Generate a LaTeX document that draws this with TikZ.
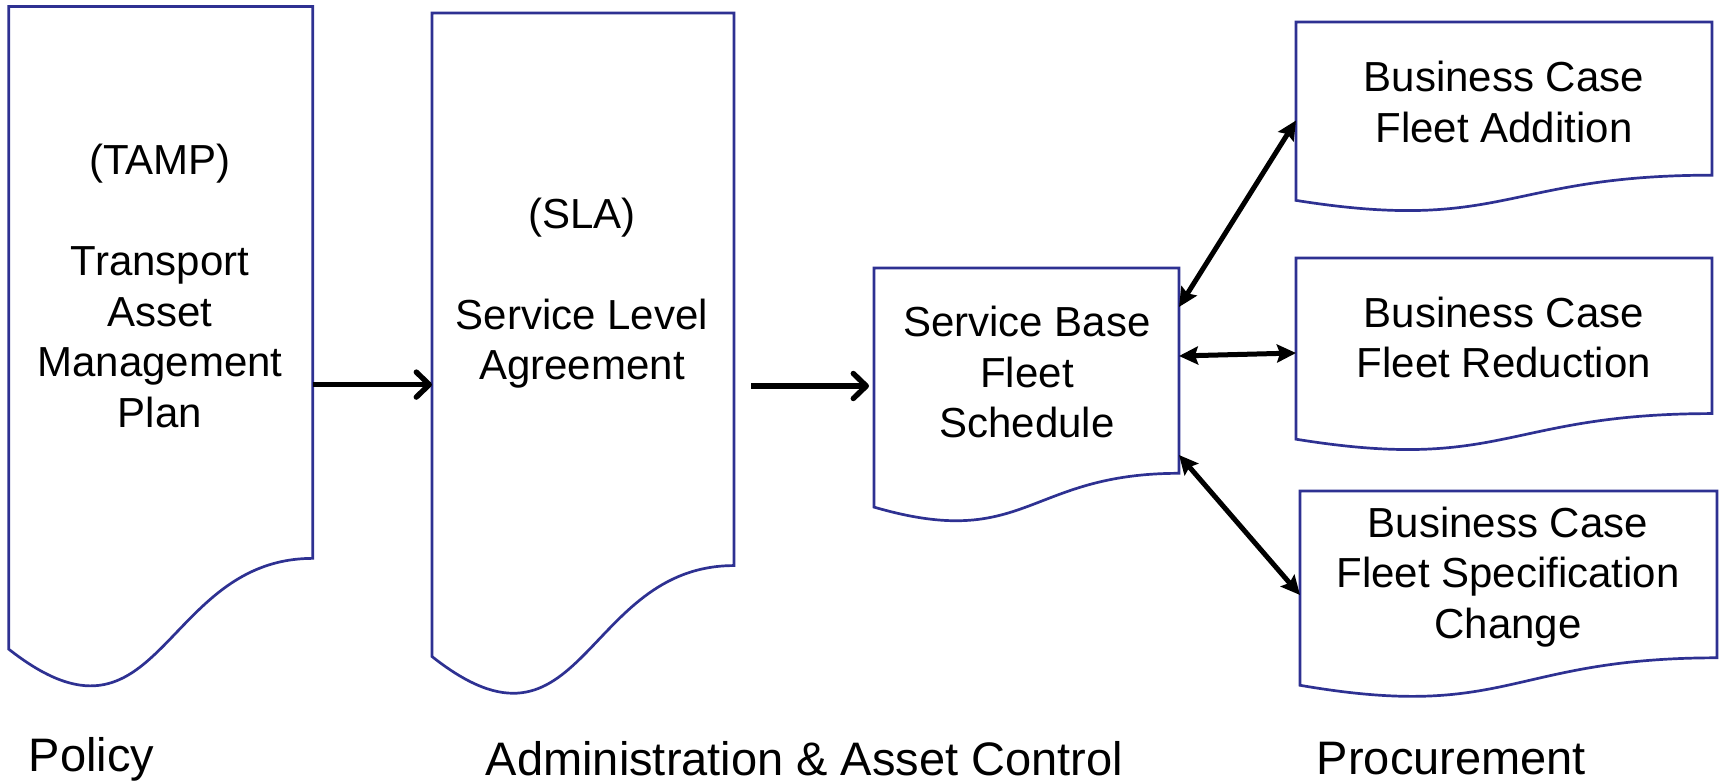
\documentclass[tikz,border=0pt]{standalone}
\usepackage{fontspec}
\setmainfont{Liberation Sans}
\usetikzlibrary{arrows.meta,calc}
\definecolor{docblue}{RGB}{46,49,146}
\tikzset{
  docbox/.style={rectangle, draw=none, inner sep=0pt, outer sep=0pt},
  docline/.style={draw=docblue, line width=2.7pt, fill=white, line join=miter},
  doctext/.style={align=center, font=\fontsize{42pt}{50.5pt}\selectfont, inner sep=0pt},
  caption/.style={font=\fontsize{47pt}{56pt}\selectfont, inner sep=0pt},
  flow/.style={line width=5.4pt, -{Straight Barb[length=13pt,width=25pt,round]}},
  both/.style={line width=5pt, {Stealth[length=19pt,width=18pt,inset=3pt]}-{Stealth[length=19pt,width=18pt,inset=3pt]}},
}
\newcommand\docshape[5]{%
  \node[docbox, minimum width=#4pt, minimum height=#5pt] (#1) at ({#2+#4/2},{#3+#5/2}) {};
  \draw[docline] (#1.north west) -- (#1.north east) -- ($(#1.north east)+(0,{0.802*#5})$)
    .. controls ($(#1.north)+(0,{0.802*#5})$) and ($(#1.north)+(0,{1.1075*#5})$) .. ($(#1.north west)+(0,{0.934*#5})$) -- cycle;
}
\begin{document}
\begin{tikzpicture}[x=1pt,y=-1pt]
\useasboundingbox (0,0) rectangle (1719,783);
\docshape{tamp}{8.8}{6.6}{304}{688}
\docshape{sla}{432}{13}{302}{689}
\docshape{sbf}{874}{268}{305}{256}
\docshape{bca}{1296}{22}{416}{191}
\docshape{bcr}{1296}{258}{416}{194}
\docshape{bcs}{1300}{491}{417}{208}

\node[doctext] (tamptxt) at (160,286) {(TAMP)\\[50.5pt]Transport\\Asset\\Management\\Plan};
\node[doctext] (slatxt) at (582,293) {(SLA)\\[50.5pt]Service Level\\Agreement};
\node[doctext] (sbftxt) at (1027,372) {Service Base\\Fleet\\Schedule};
\node[doctext] (bcatxt) at (1504,102) {Business Case\\Fleet Addition};
\node[doctext] (bcrtxt) at (1504,337.5) {Business Case\\Fleet Reduction};
\node[doctext] (bcstxt) at (1508,577) {Business Case\\Fleet Specification\\Change};

\node[caption, anchor=west] (policy) at (28.5,759) {Policy};
\node[caption] (admin) at (804.5,759) {Administration \& Asset Control};
\node[caption] (proc) at (1451.5,759) {Procurement};

\coordinate (a1) at ([yshift=-34pt]tamp.east);
\draw[flow] (a1) -- (a1 -| sla.west);
\coordinate (a2) at ([yshift=-28.5pt]sla.east);
\draw[flow, shorten <=17pt, shorten >=5pt] (a2) -- (a2 -| sbf.west);

\draw[both] ([yshift=89pt]sbf.east) -- ([yshift=-3pt]bca.west);
\draw[both] ([yshift=40pt]sbf.east) -- ([yshift=2pt]bcr.west);
\draw[both] ([yshift=-59pt]sbf.east) -- (bcs.west);
\end{tikzpicture}
\end{document}
